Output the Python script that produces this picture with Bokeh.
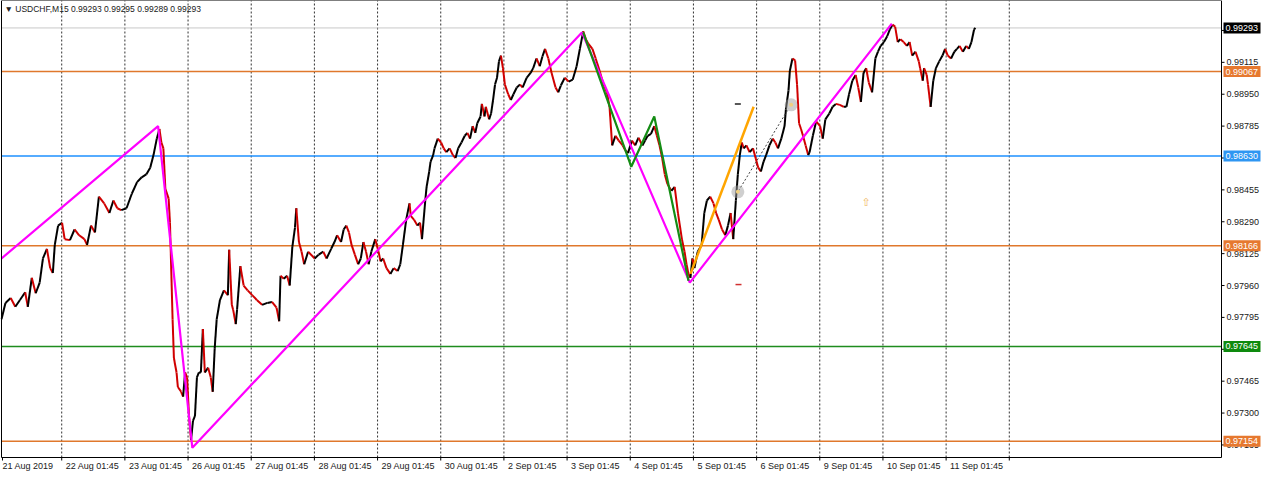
from bokeh.plotting import figure
from bokeh.models import Range1d
from bokeh.embed import file_html
from bokeh.resources import INLINE
from bokeh.core.properties import value

# ---------------- data ----------------
# M15 bar number counted from the left edge of the chart, and the close at that bar
bar_index = [
    0, 6, 14, 21, 28, 36, 40, 46, 52, 58, 63, 69, 74, 78, 81, 86, 92, 96, 104, 111,
    118, 126, 130, 136, 142, 148, 156, 164, 170, 176, 182, 190, 198, 206, 213, 220, 226, 231, 236, 240,
    243, 246,
    249, 254, 256, 260, 262, 266, 268, 273, 276, 279, 282, 285, 288, 291, 294, 297, 300, 303, 306, 309,
    314, 318, 321, 324, 327, 332, 338, 344, 346, 350, 352, 356, 358, 363, 368, 374, 381, 388, 396, 404,
    411, 418, 422, 424, 429, 434, 438, 442, 446, 448,
    452, 456, 460, 466, 476, 482, 489, 494, 501, 506, 510, 516, 520, 524, 528, 532, 537, 542, 546, 550,
    554, 558, 562, 568, 573, 576, 580, 585, 591, 596, 602, 606, 610, 615, 620, 622, 627, 632, 636, 639,
    644, 646, 650, 652, 656, 658, 663, 668, 672, 676, 681, 686, 690, 694, 699, 704, 708, 712, 716, 720,
    723, 728, 730, 734, 736, 741, 744, 747, 750, 753, 756, 759, 762, 765, 770, 774, 778, 783, 788, 792,
    798, 804, 808, 813, 818, 822, 826, 831, 836, 842, 846, 850, 856, 862, 868, 874, 879, 884, 888, 892,
    898, 903, 909, 914, 920, 924, 928, 933, 938, 944, 948, 952, 958, 963, 968, 974, 978, 982, 987, 992,
    996, 1000, 1004, 1008, 1012, 1018, 1023, 1028, 1034, 1038, 1041, 1044, 1047,
    1050, 1053, 1058, 1064, 1068, 1072, 1077, 1082, 1086, 1090, 1095, 1100, 1104, 1108, 1112, 1116, 1119, 1122, 1125, 1128,
    1132, 1137, 1142, 1146, 1150, 1154, 1158, 1162, 1167, 1172, 1176, 1180, 1185, 1190, 1192, 1196, 1198, 1202, 1206, 1209,
    1212, 1215, 1218, 1222, 1226, 1228, 1233, 1238, 1244, 1248, 1252, 1258, 1263, 1268, 1274, 1280, 1284, 1288, 1293, 1298,
    1302, 1306, 1310, 1314, 1318, 1323, 1328, 1332, 1336, 1341, 1346, 1350, 1354, 1358, 1362, 1366, 1371, 1376, 1380, 1384,
    1389, 1394, 1396, 1400, 1402, 1406, 1408, 1412, 1416, 1420, 1425, 1430, 1434, 1438, 1443, 1448, 1452, 1456, 1461, 1466,
    1470, 1474, 1478, 1480,
]
close = [
    0.97785, 0.97870, 0.97895, 0.97850, 0.97885, 0.97925, 0.97850, 0.98000, 0.97920, 0.97975,
    0.98100, 0.98150, 0.98050, 0.98025, 0.98170, 0.98270, 0.98285, 0.98200, 0.98195, 0.98250,
    0.98220, 0.98200, 0.98170, 0.98270, 0.98235, 0.98420, 0.98385, 0.98335, 0.98400, 0.98360,
    0.98350, 0.98360, 0.98435, 0.98495, 0.98520, 0.98535, 0.98570, 0.98635, 0.98720, 0.98770,
    0.98700, 0.98670,
    0.98460, 0.98410, 0.98285, 0.97785, 0.97585, 0.97510, 0.97435, 0.97410, 0.97385, 0.97510,
    0.97485, 0.97285, 0.97160, 0.97260, 0.97285, 0.97485, 0.97510, 0.97510, 0.97735, 0.97510,
    0.97535, 0.97485, 0.97410, 0.97635, 0.97785, 0.97885, 0.97935, 0.97910, 0.98145, 0.97860,
    0.97835, 0.97760, 0.97835, 0.98060, 0.97960, 0.97935, 0.97910, 0.97885, 0.97860, 0.97870,
    0.97875, 0.97845, 0.97775, 0.98010, 0.97995, 0.98010, 0.97960, 0.98160, 0.98260, 0.98360,
    0.98185, 0.98135, 0.98070, 0.98135, 0.98100, 0.98120, 0.98135, 0.98100, 0.98150, 0.98185,
    0.98220, 0.98185, 0.98250, 0.98270, 0.98235, 0.98170, 0.98120, 0.98070, 0.98100, 0.98185,
    0.98135, 0.98070, 0.98135, 0.98200, 0.98135, 0.98085, 0.98100, 0.98050, 0.98020, 0.98050,
    0.98035, 0.98070, 0.98170, 0.98300, 0.98385, 0.98320, 0.98300, 0.98270, 0.98285, 0.98200,
    0.98400, 0.98470, 0.98550, 0.98600, 0.98635, 0.98670, 0.98720, 0.98700, 0.98670, 0.98650,
    0.98670, 0.98635, 0.98620, 0.98670, 0.98700, 0.98735, 0.98750, 0.98720, 0.98785, 0.98750,
    0.98800, 0.98835, 0.98900, 0.98835, 0.98885, 0.98820, 0.98850, 0.98920, 0.99000, 0.99035,
    0.99120, 0.99150, 0.99085, 0.99000, 0.98950, 0.98920, 0.98950, 0.98985, 0.99000, 0.98985,
    0.99035, 0.99060, 0.99085, 0.99135, 0.99095, 0.99145, 0.99185, 0.99135, 0.99060, 0.98985,
    0.98960, 0.98995, 0.99035, 0.99015, 0.99025, 0.99095, 0.99185, 0.99275, 0.99235, 0.99210,
    0.99185, 0.99135, 0.99070, 0.99010, 0.98960, 0.98885, 0.98685, 0.98735, 0.98710, 0.98685,
    0.98660, 0.98645, 0.98710, 0.98685, 0.98725, 0.98685, 0.98710, 0.98735, 0.98745, 0.98785,
    0.98735, 0.98685, 0.98620, 0.98535, 0.98485, 0.98450, 0.98470, 0.98335, 0.98200, 0.98135,
    0.98070, 0.98020, 0.98000,
    0.98100, 0.98050, 0.98135, 0.98170, 0.98335, 0.98400, 0.98420, 0.98385, 0.98335, 0.98300,
    0.98250, 0.98220, 0.98270, 0.98335, 0.98200, 0.98400, 0.98535, 0.98635, 0.98700, 0.98670,
    0.98685, 0.98650, 0.98670, 0.98620, 0.98570, 0.98550, 0.98600, 0.98635, 0.98685, 0.98720,
    0.98700, 0.98670, 0.98720, 0.98785, 0.98870, 0.98970, 0.99070, 0.99135, 0.99125, 0.99000,
    0.98800, 0.98770, 0.98735, 0.98685, 0.98635, 0.98650, 0.98735, 0.98810, 0.98785, 0.98720,
    0.98820, 0.98850, 0.98885, 0.98900, 0.98895, 0.98885, 0.98885, 0.98950, 0.99020, 0.99050,
    0.98985, 0.98910, 0.99060, 0.99085, 0.99010, 0.98960, 0.99135, 0.99170, 0.99200, 0.99220,
    0.99250, 0.99285, 0.99310, 0.99300, 0.99220, 0.99235, 0.99220, 0.99200, 0.99220, 0.99150,
    0.99170, 0.99120, 0.99085, 0.99020, 0.99085, 0.99050, 0.99000, 0.98885, 0.99020, 0.99085,
    0.99120, 0.99150, 0.99185, 0.99150, 0.99135, 0.99170, 0.99185, 0.99200, 0.99170, 0.99200,
    0.99185, 0.99220, 0.99285, 0.99293,
]

symbol = "USDCHF,M15"
last_ohlc = [0.99293, 0.99295, 0.99289, 0.99293]
bid_price = 0.99293

first_date_label = "21 Aug 2019"
day_labels = ["22 Aug 01:45", "23 Aug 01:45", "26 Aug 01:45", "27 Aug 01:45", "28 Aug 01:45",
              "29 Aug 01:45", "30 Aug 01:45", "2 Sep 01:45", "3 Sep 01:45", "4 Sep 01:45",
              "5 Sep 01:45", "6 Sep 01:45", "9 Sep 01:45", "10 Sep 01:45", "11 Sep 01:45", ""]

price_ticks = [0.99280, 0.99115, 0.98950, 0.98785, 0.98620, 0.98455, 0.98290, 0.98125,
               0.97960, 0.97795, 0.97630, 0.97465, 0.97300, 0.97135]

level_prices = [0.99067, 0.98630, 0.98166, 0.97645, 0.97154]

zigzag_bars = [0, 238, 290, 882, 1046, 1353]
zigzag_prices = [0.98100, 0.98785, 0.97120, 0.99270, 0.97975, 0.99315]
wave_bars = [884, 957, 992, 1044]
wave_prices = [0.99270, 0.98575, 0.98835, 0.97985]
impulse_bars = [1047, 1143]
impulse_prices = [0.98020, 0.98885]
fibo_bars = [1120, 1196]
fibo_prices = [0.98450, 0.98875]
anchor_bars = [1119, 1200]
anchor_prices = [0.98445, 0.98895]
dash_bars = [1119, 1120]
dash_prices = [0.98900, 0.97965]
arrow_bar = 1314
arrow_price = 0.98390

# ---------------- layout / styles ----------------
BARS_PER_DAY = 96
X_START, X_END = 0, 1854          # visible bars of the chart window
Y_LOW, Y_HIGH = 0.97070, 0.99435  # visible price span of the chart window
PLOT_W, PLOT_H = 1264, 473
CHART_L, CHART_R = 1, 1221        # chart box inside the canvas (px)
CHART_T, CHART_B = 0, 457
FONT = "Liberation Sans"
TXT = "#202020"
level_colors = ["#E0782C", "#1E90FF", "#E0782C", "#1E8C1E", "#E0782C"]
level_box_colors = ["#E6782F", "#2E96F2", "#E6782F", "#0E8A0E", "#E6782F"]

PX_X = (X_END - X_START) / (CHART_R - CHART_L)
PX_Y = (Y_HIGH - Y_LOW) / (CHART_B - CHART_T)

p = figure(width=PLOT_W, height=PLOT_H, output_backend="svg", toolbar_location=None,
           x_range=Range1d(X_START - CHART_L * PX_X, X_END + (PLOT_W - CHART_R) * PX_X),
           y_range=Range1d(Y_LOW - (PLOT_H - CHART_B) * PX_Y, Y_HIGH + CHART_T * PX_Y),
           x_axis_location=None, y_axis_location=None,
           min_border=0, min_border_left=0, min_border_right=0,
           min_border_top=0, min_border_bottom=0)
p.background_fill_color = "white"
p.border_fill_color = "white"
p.outline_line_color = None
p.xgrid.grid_line_color = None
p.ygrid.grid_line_color = None

grid_pos = [BARS_PER_DAY * (i + 1) - 4.5 for i in range(len(day_labels))]
tick_pos = [X_START + PX_X] + grid_pos

# vertical dotted grid
p.segment(x0=grid_pos, y0=Y_LOW, x1=grid_pos, y1=Y_HIGH,
          line_color="#303030", line_width=1, line_dash="2 2")

# horizontal levels and the bid line
p.segment(x0=X_START, y0=bid_price, x1=X_END, y1=bid_price, line_color="#C8C8C8", line_width=1)
p.segment(x0=[X_START] * len(level_prices), y0=level_prices,
          x1=[X_END] * len(level_prices), y1=level_prices,
          line_color=level_colors, line_width=1.5)

# price path: up moves black, down moves red
x0, x1 = bar_index[:-1], bar_index[1:]
y0, y1 = close[:-1], close[1:]
seg_colors = ["#000000" if b >= a else "#D00000" for a, b in zip(y0, y1)]
p.segment(x0=x0, y0=y0, x1=x1, y1=y1, line_color=seg_colors, line_width=2)

# drawn objects
p.line(zigzag_bars, zigzag_prices, line_color="#FF00FF", line_width=2.2)
p.line(wave_bars, wave_prices, line_color="#148C14", line_width=2.2)
p.line(impulse_bars, impulse_prices, line_color="#FFA500", line_width=2.5)
p.line(fibo_bars, fibo_prices, line_color="#404040", line_width=1, line_dash="2 2")
p.scatter(anchor_bars, anchor_prices, size=13, fill_color="#A0A0A0", fill_alpha=0.5,
          line_color=None)
p.scatter(anchor_bars, anchor_prices, size=4, fill_color="#F0D080", line_color=None)
p.scatter(dash_bars, dash_prices, marker="dash", size=6, line_color=["#202020", "#D03030"],
          line_width=1.5)
p.text(x=[arrow_bar], y=[arrow_price], text=["\u21e7"], text_color="#F0B860",
       text_font=value("DejaVu Sans"), text_font_size=value("11px"),
       text_align="center", text_baseline="middle")

# chart box
p.quad(left=X_START, right=X_END, bottom=Y_LOW, top=Y_HIGH, fill_color=None,
       line_color="black", line_width=1)

# time scale: ticks at the grid, labels to the right of each tick
p.segment(x0=tick_pos, y0=Y_LOW, x1=tick_pos, y1=Y_LOW - 3 * PX_Y, line_color="black", line_width=1)
p.text(x=[X_START] + grid_pos[:-1], y=Y_LOW - 8 * PX_Y, text=[first_date_label] + day_labels[:-1],
       x_offset=[1] + [4] * (len(day_labels) - 1),
       text_font=value(FONT), text_font_size=value("9px"), text_color=TXT,
       text_align="left", text_baseline="middle")

# price scale
p.segment(x0=X_END, y0=price_ticks, x1=X_END + 3 * PX_X, y1=price_ticks, line_color="black",
          line_width=1)
p.text(x=X_END, y=price_ticks, text=[f"{v:.5f}" for v in price_ticks], x_offset=5,
       text_font=value(FONT), text_font_size=value("9px"), text_color=TXT,
       text_align="left", text_baseline="middle")

# highlighted price boxes
box_prices = [bid_price] + level_prices
box_colors = ["#000000"] + level_box_colors
p.rect(x=X_END + 20.5 * PX_X, y=box_prices, width=37, height=11, width_units="screen",
       height_units="screen", fill_color=box_colors, line_color=None)
p.text(x=X_END, y=box_prices, text=[f"{v:.5f}" for v in box_prices], x_offset=4,
       text_font=value(FONT), text_font_size=value("9px"), text_color="white",
       text_align="left", text_baseline="middle")

# header text
header = "\u25bc " + symbol + "  " + " ".join(f"{v:.5f}" for v in last_ohlc)
p.text(x=[X_START], y=[Y_HIGH - 8 * PX_Y], text=[header], x_offset=3,
       text_font=value(FONT), text_font_size=value("8.5px"), text_color=TXT,
       text_align="left", text_baseline="middle")

open("out.html", "w").write(file_html(p, INLINE))
